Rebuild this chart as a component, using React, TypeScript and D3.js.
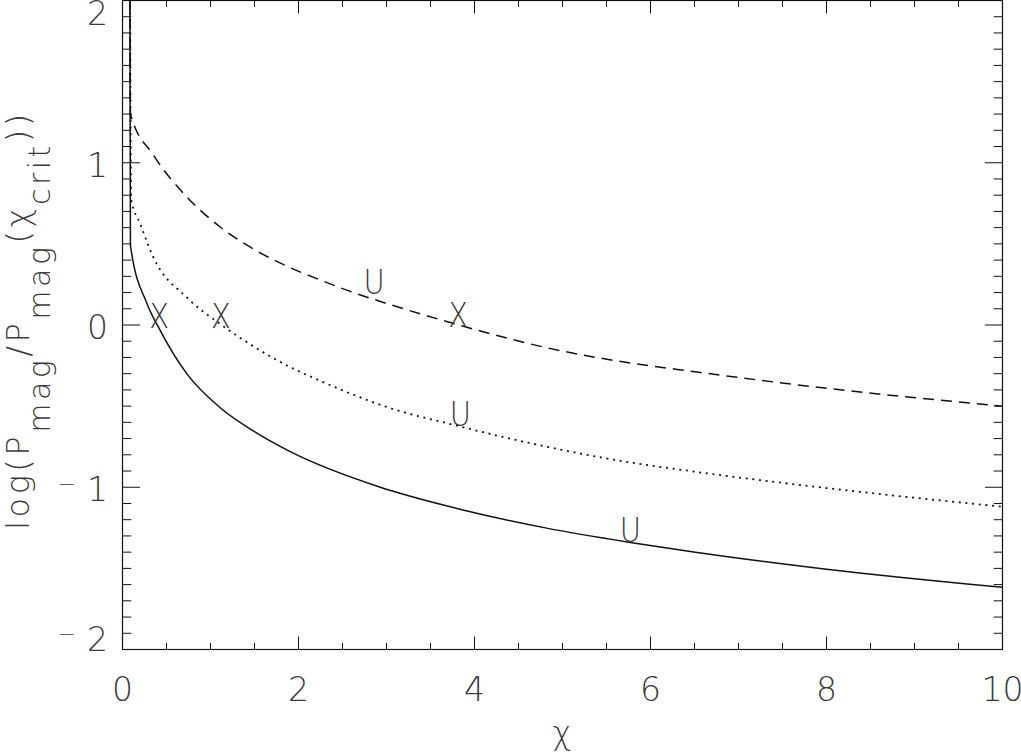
import React from 'react';
import * as d3 from 'd3';

const W = 1021;
const H = 754;

// Solid curve
const solidChi = [0.08, 0.09, 0.28, 0.41, 0.73, 1.11, 1.49, 1.89, 2.93, 3.69, 4.82, 5.77, 6.53, 8.0, 10.0];
const solidLog = [3.0, 0.49, 0.13, -0.015, -0.3, -0.51, -0.654, -0.776, -1.0, -1.116, -1.252, -1.34, -1.402, -1.505, -1.617];

// Dotted curve
const dottedChi = [0.08, 0.1, 0.2, 0.35, 0.73, 1.11, 1.49, 1.87, 2.25, 2.625, 2.93, 3.84, 4.82, 5.58, 6.53, 8.0, 10.0];
const dottedLog = [3.0, 0.77, 0.625, 0.418, 0.17, 0.006, -0.132, -0.25, -0.345, -0.43, -0.492, -0.626, -0.75, -0.83, -0.906, -1.005, -1.12];

// Dashed curve
const dashedChi = [0.08, 0.09, 0.35, 0.73, 1.11, 1.49, 1.87, 2.25, 2.625, 3.0, 3.875, 4.82, 5.58, 6.53, 8.0, 10.0];
const dashedLog = [3.0, 1.3, 1.048, 0.79, 0.604, 0.468, 0.362, 0.277, 0.2, 0.133, -0.008, -0.14, -0.218, -0.29, -0.39, -0.5];

// Marker labels
const markerText = ['X', 'X', 'X', 'U', 'U', 'U'];
const markerChi = [0.417, 1.12, 3.815, 2.86, 3.84, 5.77];
const markerLog = [-0.017, -0.017, -0.01, 0.19, -0.623, -1.34];

const xMajorTicks = [0, 2, 4, 6, 8, 10];
const xTickLabels = ['0', '2', '4', '6', '8', '10'];
const yMajorTicks = [-2, -1, 0, 1, 2];
const yTickLabels = ['−2', '−1', '0', '1', '2'];

const FONT = "'DejaVu Sans', 'Noto Sans', sans-serif";
const TXT = '#3a3a3a';

export default function App() {
  const x = d3.scaleLinear().domain([0, 10]).range([122.5, 1002.5]);
  const y = d3.scaleLinear().domain([-2, 2]).range([649.5, 0.5]);
  const [x0, x1] = x.range();
  const [y0, y1] = y.range(); // y0 bottom, y1 top

  const line = d3
    .line<[number, number]>()
    .x((d) => x(d[0]))
    .y((d) => y(d[1]))
    .curve(d3.curveMonotoneX);

  const zip = (a: number[], b: number[]) => a.map((v, i) => [v, b[i]] as [number, number]);

  const xMinor = d3.range(0, 10.001, 0.5);
  const yMinor = d3.range(-2, 2.001, 0.1).map((v) => Math.round(v * 10) / 10);

  const xMajLen = 13, xMinLen = 6.5, yMajLen = 17.6, yMinLen = 8.8;

  const ticks: JSX.Element[] = [];
  xMinor.forEach((v, i) => {
    const isMaj = xMajorTicks.some((t) => Math.abs(t - v) < 1e-6);
    const L = isMaj ? xMajLen : xMinLen;
    const px = x(v);
    ticks.push(<line key={'xb' + i} x1={px} x2={px} y1={y0} y2={y0 - L} stroke="#111" strokeWidth={1} />);
    ticks.push(<line key={'xt' + i} x1={px} x2={px} y1={y1} y2={y1 + L} stroke="#111" strokeWidth={1} />);
  });
  yMinor.forEach((v, i) => {
    const isMaj = yMajorTicks.some((t) => Math.abs(t - v) < 1e-6);
    const L = isMaj ? yMajLen : yMinLen;
    const py = y(v);
    ticks.push(<line key={'yl' + i} x1={x0} x2={x0 + L} y1={py} y2={py} stroke="#111" strokeWidth={1} />);
    ticks.push(<line key={'yr' + i} x1={x1} x2={x1 - L} y1={py} y2={py} stroke="#111" strokeWidth={1} />);
  });

  const sub = 21;

  return (
    <svg width={W} height={H} style={{ position: 'absolute', left: 0, top: 0, background: '#fff' }}>
      <defs>
        <clipPath id="plotclip">
          <rect x={x0} y={y1} width={x1 - x0} height={y0 - y1} />
        </clipPath>
      </defs>
      <rect x={0} y={0} width={W} height={H} fill="#fff" />
      <g clipPath="url(#plotclip)" fill="none" stroke="#111" strokeWidth={1.5}>
        <path d={line(zip(solidChi, solidLog)) || ''} />
        <path d={line(zip(dottedChi, dottedLog)) || ''} strokeDasharray="2 4.7" strokeWidth={1.8} />
        <path d={line(zip(dashedChi, dashedLog)) || ''} strokeDasharray="11 7" />
      </g>
      {ticks}
      <rect x={x0} y={y1} width={x1 - x0} height={y0 - y1} fill="none" stroke="#111" strokeWidth={1.2} />

      {markerText.map((t, i) => (
        <text
          key={'m' + i}
          transform={`translate(${x(markerChi[i])},${y(markerLog[i])}) scale(0.88,1)`}
          textAnchor="middle"
          fontFamily={FONT}
          fontWeight={200}
          fontSize={33}
          fill={TXT}
        >
          {t}
        </text>
      ))}

      {xMajorTicks.map((v, i) => (
        <text key={'xl' + i} x={x(v)} y={701} textAnchor="middle" fontFamily={FONT} fontWeight={200} fontSize={33} fill={TXT}>
          {xTickLabels[i]}
        </text>
      ))}

      {yMajorTicks.map((v, i) => {
        const cy = Math.max(13, Math.min(639, y(v) + 2));
        const lab = yTickLabels[i];
        const neg = lab.startsWith('−');
        return (
          <text key={'yl' + i} x={108} y={cy + 12} textAnchor="end" fontFamily={FONT} fontWeight={200} fontSize={33} fill={TXT}>
            {neg ? (
              <>
                <tspan fontSize={22} dy={-10}>−</tspan>
                <tspan dx={11} dy={10}>{lab.slice(1)}</tspan>
              </>
            ) : (
              lab
            )}
          </text>
        );
      })}

      <text x={562} y={744} textAnchor="middle" fontFamily={FONT} fontWeight={200} fontSize={32} fill={TXT}>
        χ
      </text>

      <text
        transform="translate(29,320) rotate(-90)"
        textAnchor="middle"
        fontFamily={FONT}
        fontWeight={200}
        fontSize={32}
        fill={TXT}
        letterSpacing={3.5}
      >
        <tspan>log(P</tspan>
        <tspan dy={sub} fontSize={30}>mag</tspan>
        <tspan dy={-sub}>/P</tspan>
        <tspan dy={sub} fontSize={30}>mag</tspan>
        <tspan dy={-sub}>(χ</tspan>
        <tspan dy={sub} fontSize={30}>crit</tspan>
        <tspan dy={-sub}>))</tspan>
      </text>
    </svg>
  );
}
